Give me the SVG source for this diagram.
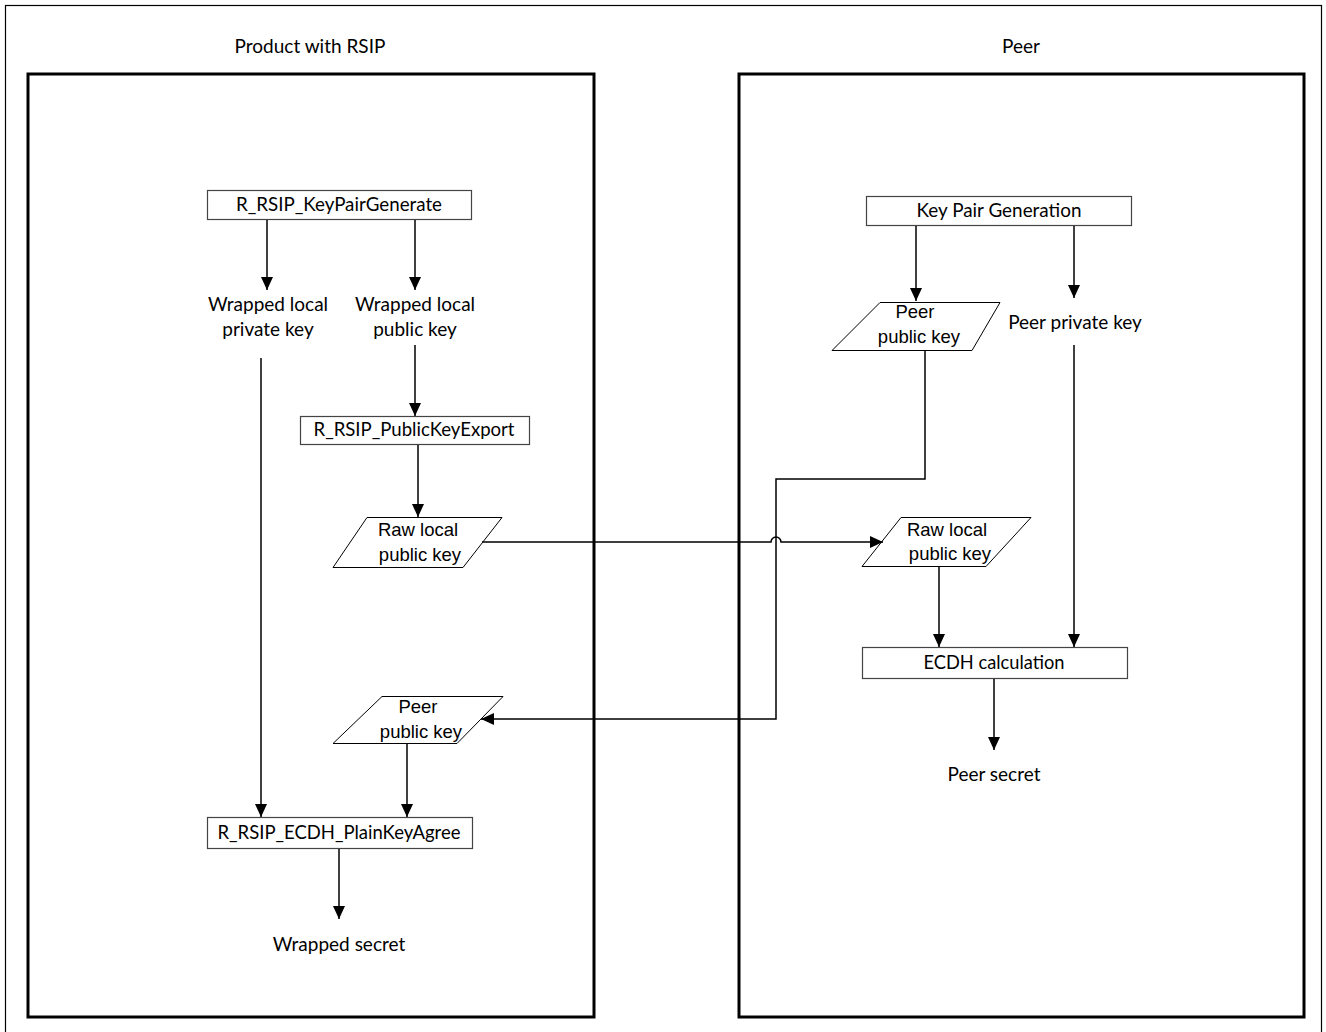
<svg xmlns="http://www.w3.org/2000/svg" width="1326" height="1032" viewBox="0 0 1326 1032">
<style>
.lbl{font-family:Lato,"Liberation Sans",sans-serif;font-size:19px;fill:#000;text-anchor:middle}
.jp{font-family:"Liberation Sans","Noto Sans CJK JP",sans-serif;font-size:18.5px;fill:#000;text-anchor:middle}
.box{fill:#fff;stroke:#444;stroke-width:1.2}
.para{fill:#fff;stroke:#000;stroke-width:1}
.frame{fill:none;stroke:#000;stroke-width:3}
.conn{fill:none;stroke:#000;stroke-width:1.5}
</style>
<defs>
<marker id="ah" markerUnits="userSpaceOnUse" markerWidth="13" markerHeight="12" refX="13" refY="6" orient="auto">
<path d="M0,0 L13,6 L0,12 z" fill="#000"/>
</marker>
</defs>
<rect x="0" y="0" width="1326" height="1032" fill="#fff"/>
<rect x="5.5" y="5.5" width="1316" height="1040" fill="none" stroke="#000" stroke-width="1.2"/>

<g id="product-group">
<rect class="frame" x="28" y="74" width="566" height="943"/>
<text class="lbl" x="310" y="53">Product with RSIP</text>
</g>
<g id="peer-group">
<rect class="frame" x="739" y="74" width="565" height="943"/>
<text class="lbl" x="1021" y="53">Peer</text>
</g>

<g id="keypairgenerate">
<rect class="box" x="207.5" y="190.5" width="264" height="29"/>
<text class="lbl" x="339" y="211" textLength="206" lengthAdjust="spacingAndGlyphs">R_RSIP_KeyPairGenerate</text>
</g>
<g id="wrapped-private">
<text class="lbl" x="268" y="311">Wrapped local</text>
<text class="lbl" x="268" y="336">private key</text>
</g>
<g id="wrapped-public">
<text class="lbl" x="415" y="311">Wrapped local</text>
<text class="lbl" x="415" y="336">public key</text>
</g>
<g id="publickeyexport">
<rect class="box" x="300.5" y="416.5" width="229" height="28"/>
<text class="lbl" x="414" y="436" textLength="201" lengthAdjust="spacingAndGlyphs">R_RSIP_PublicKeyExport</text>
</g>
<g id="raw-local-left">
<polygon class="para" points="367,517.5 502,517.5 463,567.5 333,567.5"/>
<text class="jp" x="418" y="536">Raw local</text>
<text class="jp" x="420" y="561">public key</text>
</g>
<g id="peer-public-left">
<polygon class="para" points="382,696.5 503,696.5 457,743.5 333,743.5"/>
<text class="jp" x="418" y="713">Peer</text>
<text class="jp" x="421" y="738">public key</text>
</g>
<g id="plainkeyagree">
<rect class="box" x="207.5" y="817.5" width="265" height="31"/>
<text class="lbl" x="339" y="839" textLength="243" lengthAdjust="spacingAndGlyphs">R_RSIP_ECDH_PlainKeyAgree</text>
</g>
<g id="wrapped-secret">
<text class="lbl" x="339" y="951">Wrapped secret</text>
</g>

<g id="keypairgeneration">
<rect class="box" x="866.5" y="196.5" width="265" height="29"/>
<text class="lbl" x="999" y="217" textLength="165" lengthAdjust="spacingAndGlyphs">Key Pair Generation</text>
</g>
<g id="peer-public-right">
<polygon class="para" points="880,302.5 1000,302.5 972,350.5 832,350.5"/>
<text class="jp" x="915" y="318">Peer</text>
<text class="jp" x="919" y="343">public key</text>
</g>
<g id="peer-private">
<text class="lbl" x="1075" y="329">Peer private key</text>
</g>
<g id="raw-local-right">
<polygon class="para" points="901,517.5 1031,517.5 986,566.5 862,566.5"/>
<text class="jp" x="947" y="536">Raw local</text>
<text class="jp" x="950" y="560">public key</text>
</g>
<g id="ecdh-calculation">
<rect class="box" x="862.5" y="647.5" width="265" height="31"/>
<text class="lbl" x="994" y="669" textLength="141" lengthAdjust="spacingAndGlyphs">ECDH calculation</text>
</g>
<g id="peer-secret">
<text class="lbl" x="994" y="781">Peer secret</text>
</g>

<g id="connectors">
<path class="conn" d="M267,220 V290" marker-end="url(#ah)"/>
<path class="conn" d="M415,220 V290" marker-end="url(#ah)"/>
<path class="conn" d="M261,358 V817" marker-end="url(#ah)"/>
<path class="conn" d="M415,345 V416" marker-end="url(#ah)"/>
<path class="conn" d="M418,445 V517" marker-end="url(#ah)"/>
<path class="conn" d="M482,542 H771 A5,5 0 0 1 781,542 H883" marker-end="url(#ah)"/>
<path class="conn" d="M925,350 V479 H776 V719 H481" marker-end="url(#ah)"/>
<path class="conn" d="M407,744 V817" marker-end="url(#ah)"/>
<path class="conn" d="M339,849 V919" marker-end="url(#ah)"/>
<path class="conn" d="M916,226 V301" marker-end="url(#ah)"/>
<path class="conn" d="M1074,226 V298" marker-end="url(#ah)"/>
<path class="conn" d="M1074,345 V647" marker-end="url(#ah)"/>
<path class="conn" d="M939,567 V647" marker-end="url(#ah)"/>
<path class="conn" d="M994,679 V750" marker-end="url(#ah)"/>
</g>
</svg>
